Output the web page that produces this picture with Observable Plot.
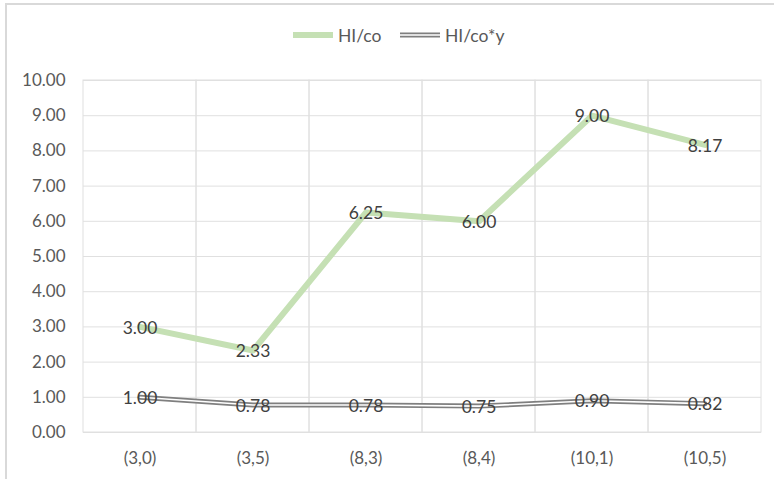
<!DOCTYPE html>
<html>
<head>
<meta charset="utf-8">
<script src="https://cdn.jsdelivr.net/npm/d3@7"></script>
<script src="https://cdn.jsdelivr.net/npm/@observablehq/plot@0.6"></script>
<style>
  html, body { margin: 0; padding: 0; background: #fff; }
  body { width: 774px; height: 479px; position: relative; overflow: hidden; font-family: Lato, "Open Sans", sans-serif; }
  #frame { position: absolute; left: 5px; top: 3px; width: 800px; height: 500px; border-left: 2px solid #d9d9d9; border-top: 2px solid #d9d9d9; box-sizing: border-box; pointer-events: none; }
  #legend { position: relative; height: 60px; width: 774px; }
  .item { position: absolute; top: 24px; display: flex; align-items: center; font-size: 17.5px; color: #595959; height: 22px; }
  .item svg { margin-right: 5px; }
  #chart { position: relative; }
</style>
</head>
<body>
<div id="frame"></div>
<div id="legend">
  <div class="item" style="left:293px"><svg width="40" height="10"><line x1="0" x2="40" y1="5" y2="5" stroke="#c5e0b4" stroke-width="6"/></svg>HI/co</div>
  <div class="item" style="left:400px"><svg width="40" height="10"><line x1="0" x2="40" y1="5" y2="5" stroke="#7f7f7f" stroke-width="5"/><line x1="0" x2="40" y1="5" y2="5" stroke="#fff" stroke-width="1.6"/></svg>HI/co*y</div>
</div>
<div id="chart"></div>
<script>
const categories = ["(3,0)", "(3,5)", "(8,3)", "(8,4)", "(10,1)", "(10,5)"];
const hiCo = [3.00, 2.33, 6.25, 6.00, 9.00, 8.17];
const hiCoY = [1.00, 0.78, 0.78, 0.75, 0.90, 0.82];
const yTicks = [0, 1, 2, 3, 4, 5, 6, 7, 8, 9, 10];

const s1 = categories.map((c, i) => ({cat: c, v: hiCo[i]}));
const s2 = categories.map((c, i) => ({cat: c, v: hiCoY[i]}));

const chart = Plot.plot({
  width: 774,
  height: 419,
  marginTop: 20,
  marginBottom: 47,
  marginLeft: 83,
  marginRight: 13,
  style: {fontFamily: "Lato, 'Open Sans', sans-serif", fontSize: "17px", color: "#595959", background: "transparent"},
  x: {type: "band", domain: categories, padding: 0, label: null},
  y: {domain: [0, 10], label: null},
  marks: [
    Plot.ruleY(yTicks, {stroke: "#e0e0e0", strokeWidth: 1}),
    Plot.barY(categories, {x: d => d, y1: 0, y2: 10, fill: "none", stroke: "#e0e0e0", strokeWidth: 1}),
    Plot.axisY({ticks: yTicks, tickFormat: d3.format(".2f"), tickSize: 0, tickPadding: 18, fill: "#595959", fontSize: 17}),
    Plot.axisX({tickSize: 0, tickPadding: 19, fill: "#595959", fontSize: 17}),
    Plot.lineY(s1, {x: "cat", y: "v", stroke: "#c5e0b4", strokeWidth: 6, strokeLinejoin: "round"}),
    Plot.lineY(s2, {x: "cat", y: "v", stroke: "#7f7f7f", strokeWidth: 5, strokeLinejoin: "round"}),
    Plot.lineY(s2, {x: "cat", y: "v", stroke: "#ffffff", strokeWidth: 1.6, strokeLinejoin: "round"}),
    Plot.text(s1, {x: "cat", y: "v", text: d => d.v.toFixed(2), fill: "#404040", fontSize: 17.5, dy: 1}),
    Plot.text(s2, {x: "cat", y: "v", text: d => d.v.toFixed(2), fill: "#404040", fontSize: 17.5, dy: 1})
  ]
});
document.getElementById("chart").appendChild(chart);
</script>
</body>
</html>
